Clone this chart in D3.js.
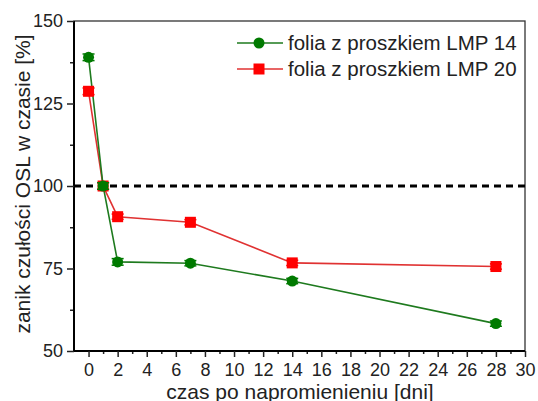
<!DOCTYPE html>
<html><head><meta charset="utf-8">
<script src="https://cdn.jsdelivr.net/npm/d3@7"></script>
<style>body{margin:0;background:#fff}svg{display:block;font-family:"Liberation Sans",Arial,sans-serif}</style>
</head><body><svg id="c" width="538" height="401"></svg>
<script>
const days = [0, 1, 2, 7, 14, 28];
const lmp14 = [139.0, 100.0, 77.0, 76.6, 71.2, 58.3];
const lmp14Err = [1.0, 1.0, 1.0, 0.8, 0.8, 0.8];
const lmp20 = [128.7, 100.0, 90.7, 89.0, 76.7, 75.6];
const lmp20Err = [1.0, 1.0, 0.8, 0.8, 0.8, 0.8];
const seriesNames = ["folia z proszkiem LMP 14", "folia z proszkiem LMP 20"];
const xTicks = [0,2,4,6,8,10,12,14,16,18,20,22,24,26,28,30];
const yTicks = [50, 75, 100, 125, 150];
const refValue = 100;

const svg = d3.select("#c");
const L = 74, R = 525, T = 21, B = 351;
const x = d3.scaleLinear().domain([-1, 30]).range([L, R]);
const y = d3.scaleLinear().domain([50, 150]).range([B, T]);

// frame
svg.append("rect").attr("x", L).attr("y", T).attr("width", R - L).attr("height", B - T)
  .attr("fill", "none").attr("stroke", "#333").attr("stroke-width", 1.3);

// minor ticks
const gx = svg.append("g").attr("transform", `translate(0,${B})`);
gx.call(d3.axisBottom(x).tickValues(d3.range(1, 30, 2)).tickSize(3).tickFormat(""));
gx.call(g => g.select(".domain").remove());
const gx2 = svg.append("g").attr("transform", `translate(0,${B})`)
  .call(d3.axisBottom(x).tickValues(xTicks).tickSize(6).tickPadding(6).tickFormat(d3.format("d")));
gx2.selectAll("text").attr("font-size", 18).attr("fill", "#222");
gx2.select(".domain").attr("d", `M${L},0H${R}`).attr("stroke-width", 2);

const gy1 = svg.append("g").attr("transform", `translate(${L},0)`)
  .call(d3.axisLeft(y).tickValues([62.5, 87.5, 112.5, 137.5]).tickSize(4).tickFormat(""));
gy1.select(".domain").remove();
const gy = svg.append("g").attr("transform", `translate(${L},0)`)
  .call(d3.axisLeft(y).tickValues(yTicks).tickSize(7).tickPadding(4));
gy.selectAll("text").attr("font-size", 18).attr("fill", "#222");
gy.select(".domain").attr("d", `M0,${B}V${T}`).attr("stroke-width", 2);
svg.selectAll(".tick line").attr("stroke", "#222").attr("stroke-width", 1.5);

// reference dashed line
svg.append("line").attr("x1", L).attr("x2", R).attr("y1", y(refValue)).attr("y2", y(refValue))
  .attr("stroke", "#000").attr("stroke-width", 2.8).attr("stroke-dasharray", "7,5");

const series = [
  {vals: lmp14, err: lmp14Err, line: "#1e7a1e", fill: "#007a00", shape: "circle"},
  {vals: lmp20, err: lmp20Err, line: "#e03232", fill: "#ff0000", shape: "square"}
];
const lineGen = d3.line().x(d => x(d[0])).y(d => y(d[1]));
[series[1], series[0]].forEach(s => {
  const pts = days.map((d, i) => [d, s.vals[i], s.err[i]]);
  svg.append("path").datum(pts).attr("d", lineGen).attr("fill", "none")
    .attr("stroke", s.line).attr("stroke-width", 1.6);
});
[series[1], series[0]].forEach(s => {
  const pts = days.map((d, i) => [d, s.vals[i], s.err[i]]);
  const g = svg.append("g");
  pts.forEach(p => {
    const cx = x(p[0]);
    g.append("line").attr("x1", cx).attr("x2", cx).attr("y1", y(p[1] + p[2])).attr("y2", y(p[1] - p[2]))
      .attr("stroke", s.fill).attr("stroke-width", 1.5);
    [p[1] + p[2], p[1] - p[2]].forEach(v => g.append("line").attr("x1", cx - 6).attr("x2", cx + 6)
      .attr("y1", y(v)).attr("y2", y(v)).attr("stroke", s.fill).attr("stroke-width", 1.5));
    if (s.shape === "circle") g.append("circle").attr("cx", cx).attr("cy", y(p[1])).attr("r", 5.5).attr("fill", s.fill);
    else g.append("rect").attr("x", cx - 5.5).attr("y", y(p[1]) - 5.5).attr("width", 11).attr("height", 11).attr("fill", s.fill);
  });
});

// legend
const legY = [43, 69];
series.forEach((s, i) => {
  const g = svg.append("g");
  g.append("line").attr("x1", 237).attr("x2", 283).attr("y1", legY[i]).attr("y2", legY[i])
    .attr("stroke", s.line).attr("stroke-width", 1.6);
  if (s.shape === "circle") g.append("circle").attr("cx", 259).attr("cy", legY[i]).attr("r", 5.5).attr("fill", s.fill);
  else g.append("rect").attr("x", 253.5).attr("y", legY[i] - 5.5).attr("width", 11).attr("height", 11).attr("fill", s.fill);
  g.append("text").attr("x", 288).attr("y", legY[i]).attr("dy", "0.35em").attr("font-size", 20.5)
    .attr("fill", "#222").text(seriesNames[i]);
});

// axis titles
svg.append("text").attr("x", 300).attr("y", 398.5).attr("text-anchor", "middle")
  .attr("font-size", 21).attr("fill", "#222").text("czas po napromienieniu [dni]");
svg.append("text").attr("transform", `translate(30,${184}) rotate(-90)`).attr("text-anchor", "middle")
  .attr("font-size", 21).attr("fill", "#222").text("zanik czułości OSL w czasie [%]");
</script></body></html>
